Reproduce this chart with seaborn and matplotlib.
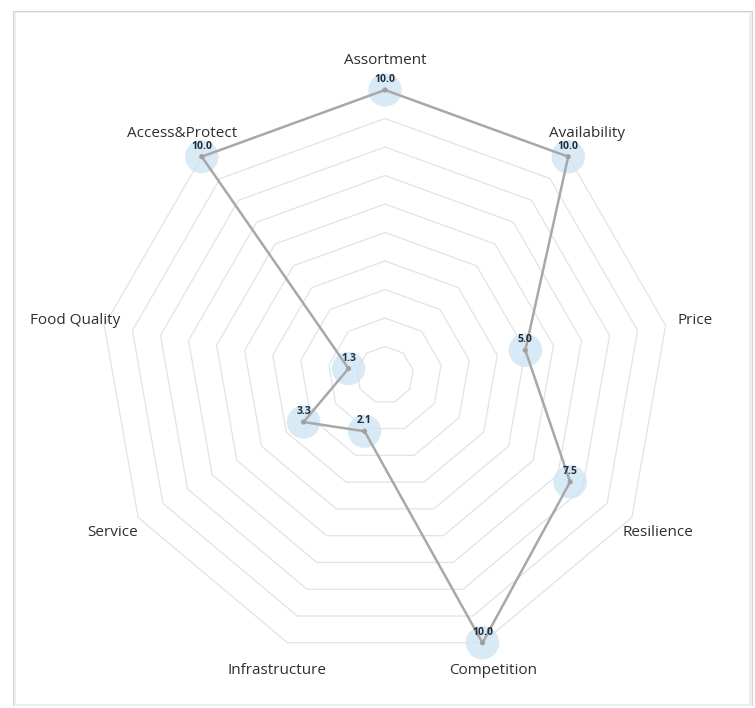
import numpy as np
import pandas as pd
import matplotlib
matplotlib.use("Agg")
import matplotlib.pyplot as plt
import seaborn as sns
from matplotlib.patches import Rectangle

categories = ["Assortment", "Availability", "Price", "Resilience", "Competition",
              "Infrastructure", "Service", "Food Quality", "Access&Protect"]
values = [10.0, 10.0, 5.0, 7.5, 10.0, 2.1, 3.3, 1.3, 10.0]
value_labels = ["10.0", "10.0", "5.0", "7.5", "10.0", "2.1", "3.3", "1.3", "10.0"]
grid_levels = [1, 2, 3, 4, 5, 6, 7, 8, 9, 10]
r_max = 10

sns.set_theme(style="white")
plt.rcParams["font.family"] = ["Open Sans", "DejaVu Sans"]

W, H = 755, 708
fig = plt.figure(figsize=(W / 100, H / 100), dpi=100)
fig.patch.set_facecolor("white")

# frame with soft shadow (darker on the left and right sides)
fig.add_artist(Rectangle((12.5 / W, 1 - 706 / H), 740 / W, 695 / H, transform=fig.transFigure,
                         facecolor="#d2d2d2", edgecolor="none", zorder=-4))
fig.add_artist(Rectangle((13.5 / W, 1 - 705.5 / H), 738 / W, 694 / H, transform=fig.transFigure,
                         facecolor="#ededed", edgecolor="none", zorder=-3))
fig.add_artist(Rectangle((16 / W, 1 - 704 / H), 733 / W, 691 / H, transform=fig.transFigure,
                         facecolor="white", edgecolor="none", zorder=-2))

n = len(categories)
theta = np.arange(n) * 2 * np.pi / n

cx, cy, R = 385, 375, 285
ax = fig.add_axes([(cx - R) / W, (H - cy - R) / H, 2 * R / W, 2 * R / H], projection="polar")
ax.set_theta_offset(np.pi / 2)
ax.set_theta_direction(-1)
ax.patch.set_alpha(0)

# polygon grid
theta_closed = np.append(theta, theta[0])
for lv in grid_levels:
    ax.plot(theta_closed, [lv] * (n + 1), color="#e3e3e3", linewidth=0.9, zorder=1)

df = pd.DataFrame({"theta": np.append(theta, theta[0] + 2 * np.pi),
                   "value": values + [values[0]]})
sns.lineplot(data=df, x="theta", y="value", sort=False, estimator=None, ax=ax,
             color="#a8a8a8", linewidth=1.8, zorder=3)

pts = pd.DataFrame({"theta": theta, "value": values})
sns.scatterplot(data=pts, x="theta", y="value", ax=ax, s=580, color="#cfe5f4",
                alpha=0.8, edgecolor="none", zorder=2, legend=False)
sns.scatterplot(data=pts, x="theta", y="value", ax=ax, s=14, color="#a0a0a0",
                edgecolor="none", zorder=4, legend=False)
for art in list(ax.lines) + list(ax.collections):
    art.set_clip_on(False)

ax.set_xlabel("")
ax.set_ylabel("")
ax.grid(False)
ax.spines["polar"].set_visible(False)
ax.set_xticks([])
ax.set_yticks([])
ax.set_ylim(0, r_max)

for t, v, lab in zip(theta, values, value_labels):
    ax.annotate(lab, (t, v), xytext=(0, 7.5), textcoords="offset points",
                ha="center", va="center", fontsize=7.5, fontweight="bold",
                color="#1f2d3d", zorder=5)

for t, c in zip(theta, categories):
    ax.text(t, 11.05, c, ha="center", va="center", fontsize=11, color="#2e2e2e",
            zorder=5)

fig.savefig("out.png", dpi=100, facecolor="white")
